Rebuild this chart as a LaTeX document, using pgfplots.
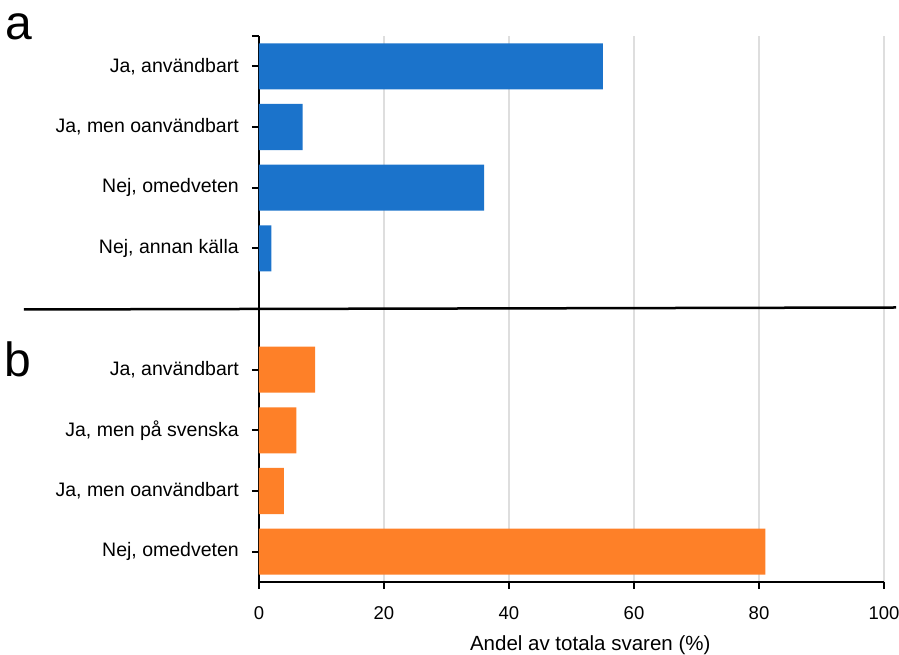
\documentclass[border=0pt]{standalone}
\usepackage{fontspec}
\setmainfont{Liberation Sans}
\usepackage{pgfplots}
\pgfplotsset{compat=1.18}
\definecolor{barblue}{RGB}{27,115,203}
\definecolor{barorange}{RGB}{254,128,40}
\definecolor{gridgray}{RGB}{222,222,222}
\begin{document}
\begin{tikzpicture}
\path[use as bounding box] (-259pt,-73pt) rectangle (640pt,582pt);
\begin{axis}[
  at={(0pt,0pt)}, anchor=south west,
  scale only axis, width=625pt, height=546pt,
  xmin=0, xmax=100, ymin=0, ymax=9,
  axis lines*=left,
  axis line style={line width=2pt, black},
  clip=false,
  font=\fontsize{19.5}{22}\selectfont,
  /pgf/number format/assume math mode=true,
  xtick={0,20,40,60,80,100},
  ytick={0.5,1.5,2.5,3.5,5.5,6.5,7.5,8.5,9},
  yticklabels={{Nej, omedveten},{Ja, men oanvändbart},{Ja, men på svenska},{Ja, användbart},{Nej, annan källa},{Nej, omedveten},{Ja, men oanvändbart},{Ja, användbart},{}},
  tick align=outside,
  major tick length=7pt,
  tick style={line width=2pt, black},
  xmajorgrids,
  grid style={line width=1.5pt, gridgray},
  xticklabel style={anchor=north, inner sep=0pt, yshift=-17pt, font=\fontsize{18.5}{22}\selectfont},
  yticklabel style={anchor=east, inner sep=0pt, xshift=-13pt},
  xlabel={Andel av totala svaren (\%)},
  xlabel style={at={(axis description cs:0.53,0)}, anchor=base, yshift=-69pt, inner sep=0pt, font=\fontsize{20.5}{22}\selectfont},
]
\addplot[xbar, bar width=0.76, bar shift=0pt, fill=barblue, draw=none]
  coordinates {(55,8.5) (7,7.5) (36,6.5) (2,5.5)};
\addplot[xbar, bar width=0.76, bar shift=0pt, fill=barorange, draw=none]
  coordinates {(9,3.5) (6,2.5) (4,1.5) (81,0.5)};
\end{axis}
\draw[line width=2.5pt, black] (-235pt,272.5pt) -- (637pt,274.5pt);
\node[anchor=base west, inner sep=0pt, font=\fontsize{48}{50}\selectfont] at (-254pt,542pt) {a};
\node[anchor=base west, inner sep=0pt, font=\fontsize{48}{50}\selectfont] at (-255pt,205pt) {b};
\end{tikzpicture}
\end{document}
